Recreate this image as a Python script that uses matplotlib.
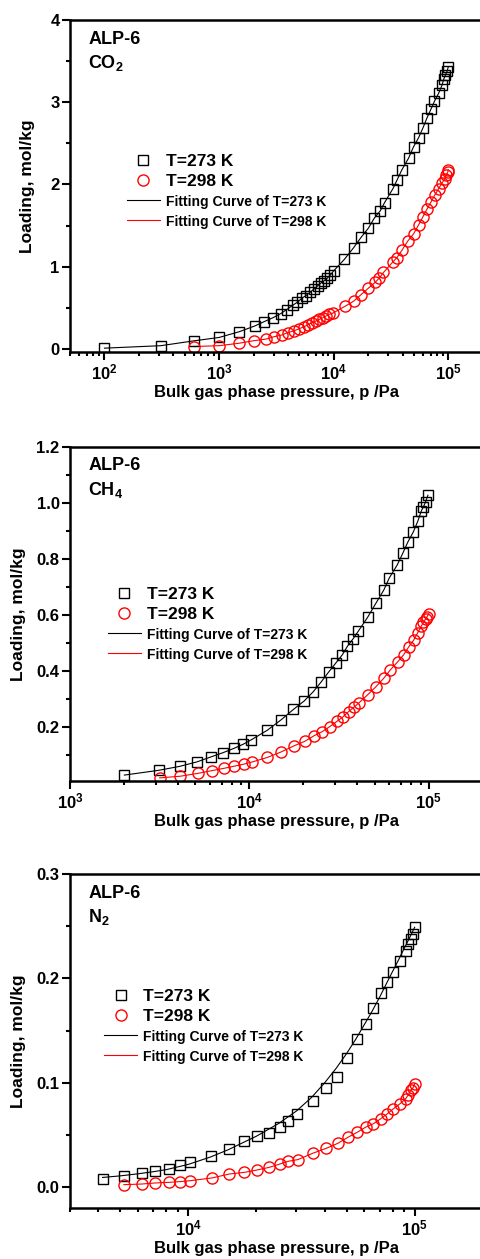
import matplotlib.pyplot as plt
from matplotlib.ticker import LogLocator, MultipleLocator, FormatStrFormatter, NullFormatter

plt.rcParams['font.family'] = ['Liberation Sans', 'DejaVu Sans']
plt.rcParams['font.weight'] = 'bold'
plt.rcParams['axes.labelweight'] = 'bold'
plt.rcParams['mathtext.fontset'] = 'custom'
plt.rcParams['mathtext.rm'] = 'Liberation Sans:bold'
plt.rcParams['mathtext.bf'] = 'Liberation Sans:bold'
plt.rcParams['mathtext.it'] = 'Liberation Sans:bold:italic'
plt.rcParams['mathtext.default'] = 'bf'

# ---- CO2 ----
co2_p_273 = [100, 310, 610, 1000, 1500, 2050, 2450, 2950, 3450, 3900, 4380, 4830, 5300, 5750,
             6230, 6750, 7270, 7720, 8250, 8770, 9350, 10000, 12400, 14900, 17400, 20100,
             22600, 25500, 27800, 32900, 35600, 39400, 45000, 49800, 55100, 60200, 65200,
             70800, 75600, 82400, 88300, 91200, 94400, 97700, 100000]
co2_q_273 = [0.01, 0.04, 0.10, 0.14, 0.21, 0.28, 0.33, 0.38, 0.43, 0.48, 0.53, 0.57, 0.62, 0.65,
             0.69, 0.73, 0.77, 0.80, 0.83, 0.86, 0.90, 0.95, 1.09, 1.23, 1.36, 1.47,
             1.59, 1.68, 1.78, 1.95, 2.05, 2.18, 2.32, 2.46, 2.57, 2.69, 2.81,
             2.92, 3.01, 3.11, 3.21, 3.28, 3.33, 3.38, 3.43]
co2_p_298 = [610, 1000, 1500, 2000, 2560, 3030, 3530, 3990, 4490, 4980, 5490, 5960, 6500, 6990,
             7520, 8030, 8550, 9100, 9800, 12600, 14900, 17300, 20100, 23000, 24900, 27200,
             32900, 35600, 39400, 44200, 49800, 55100, 60200, 65200, 70800, 76100, 82400,
             88300, 93100, 96000, 99000, 100000]
co2_q_298 = [0.03, 0.04, 0.07, 0.10, 0.12, 0.15, 0.17, 0.20, 0.22, 0.245, 0.27, 0.295, 0.32, 0.34,
             0.36, 0.38, 0.40, 0.42, 0.435, 0.52, 0.58, 0.66, 0.74, 0.81, 0.86, 0.93,
             1.06, 1.11, 1.20, 1.31, 1.40, 1.51, 1.61, 1.70, 1.79, 1.87, 1.95,
             2.02, 2.07, 2.11, 2.15, 2.18]

# ---- CH4 ----
ch4_p_273 = [2010, 3120, 4080, 5100, 6120, 7140, 8190, 9240, 10200, 12600, 15100, 17600, 20200,
             22700, 25200, 27800, 30300, 33000, 35200, 37900, 40400, 45600, 50800, 56100, 60300,
             66600, 71600, 76400, 82100, 86900, 90700, 93400, 95900, 98900]
ch4_q_273 = [0.03, 0.047, 0.061, 0.077, 0.095, 0.11, 0.125, 0.14, 0.155, 0.19, 0.228, 0.264, 0.294,
             0.327, 0.363, 0.399, 0.429, 0.459, 0.489, 0.516, 0.542, 0.592, 0.643, 0.689, 0.733,
             0.778, 0.82, 0.86, 0.897, 0.935, 0.97, 0.986, 1.003, 1.027]
ch4_p_298 = [3160, 4120, 5150, 6190, 7200, 8260, 9310, 10400, 12600, 15100, 17700, 20300, 22900,
             25500, 28100, 30700, 33300, 35700, 38300, 40600, 45600, 50800, 56100, 61100, 67200,
             72300, 77500, 82600, 86900, 90700, 93400, 95900, 98000, 100000]
ch4_q_298 = [0.02, 0.026, 0.036, 0.046, 0.054, 0.062, 0.069, 0.077, 0.093, 0.113, 0.134, 0.15, 0.17,
             0.185, 0.203, 0.221, 0.238, 0.256, 0.272, 0.286, 0.316, 0.345, 0.375, 0.405, 0.434,
             0.458, 0.488, 0.512, 0.538, 0.56, 0.574, 0.586, 0.595, 0.605]

# ---- N2 ----
n2_p_273 = [4180, 5190, 6220, 7120, 8210, 9190, 10200, 12600, 15200, 17700, 20200, 22800, 25300,
            27700, 30200, 35400, 40700, 45500, 50400, 55800, 60700, 65600, 70700, 75700, 80500,
            86100, 91200, 93800, 96000, 98400, 100000]
n2_q_273 = [0.008, 0.011, 0.0135, 0.016, 0.018, 0.0215, 0.024, 0.030, 0.037, 0.044, 0.049, 0.052,
            0.058, 0.064, 0.070, 0.083, 0.095, 0.106, 0.124, 0.142, 0.156, 0.172, 0.186, 0.197,
            0.206, 0.217, 0.226, 0.233, 0.238, 0.243, 0.249]
n2_p_298 = [5190, 6220, 7120, 8210, 9190, 10200, 12700, 15200, 17700, 20200, 22800, 25400, 27700,
            30500, 35400, 40700, 45800, 50800, 55800, 60700, 65600, 70700, 75700, 80500, 86100,
            91200, 93800, 96000, 98400, 100000]
n2_q_298 = [0.0026, 0.0032, 0.0042, 0.0048, 0.0055, 0.0064, 0.009, 0.0128, 0.0144, 0.0167, 0.0192,
            0.0224, 0.025, 0.0266, 0.0326, 0.0374, 0.0422, 0.048, 0.0528, 0.0576, 0.0608, 0.0656,
            0.0704, 0.0752, 0.080, 0.0848, 0.0887, 0.0928, 0.0954, 0.0992]
n2_fit_p_273 = [4180, 5000, 6000, 7000, 8000, 10000, 12500, 15000, 17500, 20000, 25000, 30000,
                35000, 40000, 45000, 50000, 55000, 60000, 65000, 70000, 75000, 80000, 85000,
                90000, 95000, 100000]
n2_fit_q_273 = [0.0095, 0.011, 0.013, 0.015, 0.017, 0.022, 0.029, 0.036, 0.043, 0.049, 0.061, 0.073,
                0.086, 0.100, 0.114, 0.128, 0.142, 0.156, 0.169, 0.182, 0.195, 0.207, 0.218,
                0.229, 0.239, 0.249]

panels = [
    dict(gas=r'$\mathrm{CO_2}$', p273=co2_p_273, q273=co2_q_273, p298=co2_p_298, q298=co2_q_298,
         f273=(co2_p_273, co2_q_273), xlim=(50, 2e5), ylim=(-0.04, 4.0), major=1, minor=0.5, fmt='%d',
         rect=[0.1458, 0.7202, 0.86, 0.2639], leg=(0.138, 0.597), ypad=11),
    dict(gas=r'$\mathrm{CH_4}$', p273=ch4_p_273, q273=ch4_q_273, p298=ch4_p_298, q298=ch4_q_298,
         f273=(ch4_p_273, ch4_q_273), xlim=(1e3, 2e5), ylim=(0.01, 1.2), major=0.2, minor=0.1, fmt='%.1f',
         rect=[0.1458, 0.3799, 0.86, 0.2653], leg=(0.092, 0.58), ypad=7.5),
    dict(gas=r'$\mathrm{N_2}$', p273=n2_p_273, q273=n2_q_273, p298=n2_p_298, q298=n2_q_298,
         f273=(n2_fit_p_273, n2_fit_q_273), xlim=(3e3, 2e5), ylim=(-0.02, 0.3), major=0.1, minor=0.05, fmt='%.1f',
         rect=[0.1458, 0.0403, 0.86, 0.2655], leg=(0.083, 0.656), ypad=7.5),
]

fig = plt.figure(figsize=(4.8, 12.59), dpi=100)

for pn in panels:
    ax = fig.add_axes(pn['rect'])
    ax.set_xscale('log')
    l3, = ax.plot(pn['f273'][0], pn['f273'][1], '-', color='black', lw=0.8, label='Fitting Curve of T=273 K')
    l4, = ax.plot(pn['p298'], pn['q298'], '-', color='red', lw=0.8, label='Fitting Curve of T=298 K')
    l1, = ax.plot(pn['p273'], pn['q273'], ls='none', marker='s', ms=7, mfc='none', mec='black', mew=1.0,
                  label='T=273 K')
    l2, = ax.plot(pn['p298'], pn['q298'], ls='none', marker='o', ms=8, mfc='none', mec='red', mew=1.0,
                  label='T=298 K')
    ax.set_xlim(*pn['xlim'])
    ax.set_ylim(*pn['ylim'])

    ax.xaxis.set_major_locator(LogLocator(base=10, numticks=10))
    ax.xaxis.set_minor_locator(LogLocator(base=10, subs=range(2, 10), numticks=20))
    ax.xaxis.set_minor_formatter(NullFormatter())
    ax.yaxis.set_major_locator(MultipleLocator(pn['major']))
    ax.yaxis.set_minor_locator(MultipleLocator(pn['minor']))
    ax.yaxis.set_major_formatter(FormatStrFormatter(pn['fmt']))

    ax.tick_params(which='both', direction='out', top=False, right=False, labelsize=12, width=1.5)
    ax.tick_params(which='major', length=5.5, pad=2)
    ax.tick_params(which='minor', length=3)
    for s in ['left', 'bottom', 'top']:
        ax.spines[s].set_linewidth(1.8)
    ax.spines['right'].set_visible(False)

    ax.set_xlabel('Bulk gas phase pressure, p /Pa', fontsize=12, labelpad=2)
    ax.set_ylabel('Loading, mol/kg', fontsize=12.5, labelpad=pn['ypad'])

    ax.text(0.044, 0.968, 'ALP-6', transform=ax.transAxes, fontsize=13, va='top', ha='left')
    ax.text(0.044, 0.9, pn['gas'], transform=ax.transAxes, fontsize=13, va='top', ha='left')

    leg = ax.legend(handles=[l1, l2, l3, l4], loc='upper left', bbox_to_anchor=pn['leg'],
                    frameon=False, fontsize=12.5, handlelength=1.9, handletextpad=0.35,
                    labelspacing=0.28, borderaxespad=0, borderpad=0)
    for t in leg.get_texts()[2:]:
        t.set_fontsize(10)

fig.savefig('out.png', dpi=100)
